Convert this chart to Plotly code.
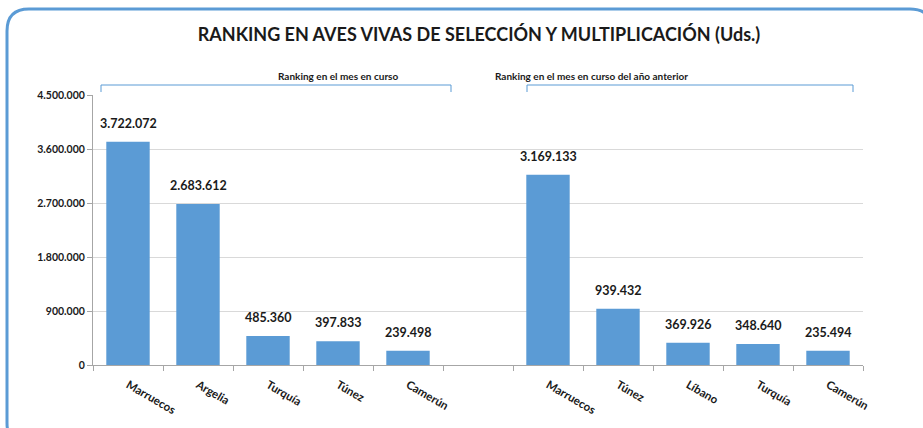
import plotly.graph_objects as go

# ---- data ----
cats_actual = ["Marruecos", "Argelia", "Turquía", "Túnez", "Camerún"]
vals_actual = [3722072, 2683612, 485360, 397833, 239498]
cats_prev = ["Marruecos", "Túnez", "Líbano", "Turquía", "Camerún"]
vals_prev = [3169133, 939432, 369926, 348640, 235494]
group_labels = ["Ranking en el mes en curso", "Ranking en el mes en curso del año anterior"]
y_ticks = [0, 900000, 1800000, 2700000, 3600000, 4500000]
title_text = "RANKING EN AVES VIVAS DE SELECCIÓN Y MULTIPLICACIÓN (Uds.)"

FONT = "Lato"
BLUE = "#5B9BD5"

W, H = 923, 428
# target plot area in pixels
SX0, SX1, SY0, SY1 = 93, 863, 95, 365
L, R = SX0, W - SX1
T, B = SY0, H - SY1
PW, PH = SX1 - SX0, SY1 - SY0

def px(x):
    return (x - SX0) / PW

def py(y):
    return (SY1 - y) / PH

def fmt(v):
    return f"{v:,}".replace(",", ".")

x_actual = list(range(len(cats_actual)))
x_prev = [len(cats_actual) + 1 + i for i in range(len(cats_prev))]
n_slots = len(cats_actual) + 1 + len(cats_prev)

fig = go.Figure()
fig.add_trace(go.Bar(x=x_actual + x_prev, y=vals_actual + vals_prev,
                     marker=dict(color=BLUE, line=dict(width=0)),
                     width=0.62, showlegend=False, hoverinfo="skip"))

annotations = []
for xv, v in zip(x_actual + x_prev, vals_actual + vals_prev):
    annotations.append(dict(x=xv, y=v, xref="x", yref="y", text=f"<b>{fmt(v)}</b>",
                            showarrow=False, yanchor="bottom", yshift=9,
                            font=dict(family=FONT, size=12.5, color="#1a1a1a")))

# group brackets
shapes = []
brackets = [(101, 451), (527, 853)]
for (x0, x1), lab in zip(brackets, group_labels):
    path = (f"M {px(x0)},{py(92)} L {px(x0)},{py(85)} L {px(x1)},{py(85)} L {px(x1)},{py(92)}")
    shapes.append(dict(type="path", xref="paper", yref="paper", path=path,
                       line=dict(color=BLUE, width=1)))
    annotations.append(dict(x=px((x0 + x1) / 2), y=py(76), xref="paper", yref="paper",
                            text=f"<b>{lab}</b>", showarrow=False, yanchor="middle",
                            font=dict(family=FONT, size=10, color="#1a1a1a")))

# rounded chart border
bx0, by0, bx1, by1, r = 7, 9, 932, 445, 22
border = (f"M {px(bx0 + r)},{py(by0)} L {px(bx1 - r)},{py(by0)} "
          f"Q {px(bx1)},{py(by0)} {px(bx1)},{py(by0 + r)} L {px(bx1)},{py(by1 - r)} "
          f"Q {px(bx1)},{py(by1)} {px(bx1 - r)},{py(by1)} L {px(bx0 + r)},{py(by1)} "
          f"Q {px(bx0)},{py(by1)} {px(bx0)},{py(by1 - r)} L {px(bx0)},{py(by0 + r)} "
          f"Q {px(bx0)},{py(by0)} {px(bx0 + r)},{py(by0)} Z")
shapes.append(dict(type="path", xref="paper", yref="paper", path=border,
                   line=dict(color=BLUE, width=3), layer="above"))

fig.update_layout(
    width=W, height=H,
    margin=dict(l=L, r=R, t=T, b=B),
    paper_bgcolor="white", plot_bgcolor="white",
    title=dict(text=f"<b>{title_text}</b>", xref="container", x=479 / W, xanchor="center",
               yref="container", y=1 - 35 / H, yanchor="middle",
               font=dict(family=FONT, size=18, color="#1a1a1a")),
    xaxis=dict(range=[-0.5, n_slots - 0.5], tickmode="array",
               tickvals=x_actual + x_prev, ticktext=[f"<b>{c}</b>" for c in cats_actual + cats_prev],
               tickangle=30, ticks="", showgrid=False, zeroline=False,
               ticklabelstandoff=8,
               showline=True, linecolor="#A6A6A6", linewidth=1,
               tickfont=dict(family=FONT, size=11.5, color="#1a1a1a"),
               minor=dict(tickmode="linear", tick0=-0.5, dtick=1, ticks="outside",
                          ticklen=5, tickcolor="#A6A6A6", showgrid=False)),
    yaxis=dict(range=[0, 4500000], tickmode="array", tickvals=y_ticks,
               ticktext=[f"<b>{fmt(v)}</b>" for v in y_ticks],
               ticks="outside", ticklen=5, tickcolor="#A6A6A6",
               showgrid=True, gridcolor="#D9D9D9", gridwidth=1, zeroline=False,
               showline=True, linecolor="#A6A6A6", linewidth=1,
               tickfont=dict(family=FONT, size=10.5, color="#1a1a1a")),
    shapes=shapes, annotations=annotations,
)

fig.write_html("out.html", config={"displayModeBar": False},
               post_script="document.body.style.margin='0';document.body.style.overflow='hidden';")
